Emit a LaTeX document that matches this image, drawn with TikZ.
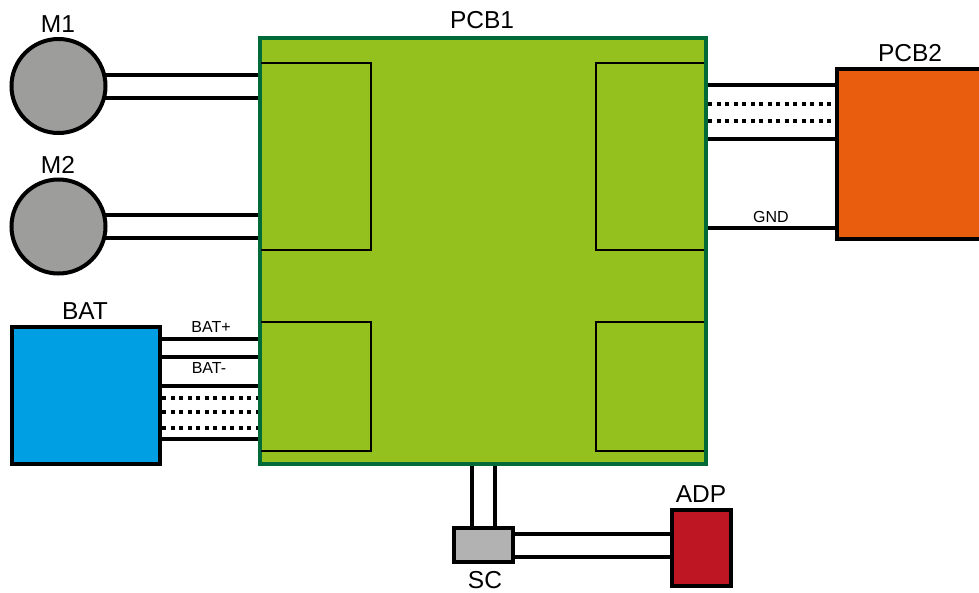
\documentclass[tikz,border=0pt]{standalone}
\usepackage{xcolor}
\usepackage{fontspec}
\setmainfont{Liberation Sans}
\usetikzlibrary{backgrounds}
\definecolor{pcbgreen}{HTML}{95C11F}
\definecolor{pcbedge}{HTML}{006B38}
\definecolor{batblue}{HTML}{009FE3}
\definecolor{pcborange}{HTML}{E95D0F}
\definecolor{motorgray}{HTML}{9D9D9C}
\definecolor{scgray}{HTML}{B2B2B2}
\definecolor{adpred}{HTML}{BE1622}
\begin{document}
\begin{tikzpicture}[x=1pt, y=-1pt, line width=4pt, every node/.style={inner sep=0pt, outer sep=auto}, part/.style={draw=black, line width=4pt}, motor/.style={part, circle, fill=motorgray, minimum size=94pt}, title/.style={font=\fontsize{24.5}{26}\selectfont}, tag/.style={font=\fontsize{16}{18}\selectfont}, wire/.style={draw=black, line width=4pt}, bus/.style={wire, dash pattern=on 4pt off 4.5pt}, zone/.style={draw=black, line width=2pt}]
\useasboundingbox (0,0) rectangle (979,592);
\node[part, draw=pcbedge, fill=pcbgreen, minimum width=446pt, minimum height=426pt] (pcb1) at (483,251) {};
\node[motor] (m1) at (58.5,86) {};
\node[motor] (m2) at (58.5,226.5) {};
\node[part, fill=batblue, minimum width=148pt, minimum height=137pt] (bat) at (86,395.5) {};
\node[part, fill=pcborange, minimum width=148pt, minimum height=170pt] (pcb2) at (911,154) {};
\node[part, fill=scgray, minimum width=59pt, minimum height=34pt] (sc) at (483.5,545) {};
\node[part, fill=adpred, minimum width=59pt, minimum height=76pt] (adp) at (701.5,548) {};
\node[title] (pcb1lab) at (482,20) {PCB1};
\node[title] (pcb2lab) at (910,53) {PCB2};
\node[title] (m1lab) at (58,24) {M1};
\node[title] (m2lab) at (58,165) {M2};
\node[title] (batlab) at (85,311) {BAT};
\node[title] (sclab) at (485,580) {SC};
\node[title] (adplab) at (701,494) {ADP};
\node[tag] (batplus) at (211,327) {BAT+};
\node[tag] (batminus) at (209,368) {BAT-};
\node[tag] (gnd) at (771,217) {GND};
\draw[zone] (261,63) -- (371,63) -- (371,250) -- (261,250);
\draw[zone] (261,322) -- (371,322) -- (371,451) -- (261,451);
\draw[zone] (704,63) -- (596,63) -- (596,250) -- (704,250);
\draw[zone] (704,322) -- (596,322) -- (596,451) -- (704,451);
\begin{scope}[on background layer]
\draw[wire] (m1.center |- 0,75) -- (pcb1.west |- 0,75); \draw[wire] (m1.center |- 0,98) -- (pcb1.west |- 0,98);
\draw[wire] (m2.center |- 0,215) -- (pcb1.west |- 0,215); \draw[wire] (m2.center |- 0,238) -- (pcb1.west |- 0,238);
\end{scope}
\draw[wire] (bat.east |- 0,339) -- (pcb1.west |- 0,339); \draw[wire] (bat.east |- 0,357) -- (pcb1.west |- 0,357); \draw[wire] (bat.east |- 0,386) -- (pcb1.west |- 0,386); \draw[wire] (bat.east |- 0,439) -- (pcb1.west |- 0,439);
\draw[bus] (bat.east |- 0,398) -- (pcb1.west |- 0,398); \draw[bus] (bat.east |- 0,412) -- (pcb1.west |- 0,412); \draw[bus] (bat.east |- 0,427.5) -- (pcb1.west |- 0,427.5);
\draw[wire] (pcb1.east |- 0,85) -- (pcb2.west |- 0,85); \draw[wire] (pcb1.east |- 0,139) -- (pcb2.west |- 0,139); \draw[wire] (pcb1.east |- 0,227.5) -- (pcb2.west |- 0,227.5);
\draw[bus] (pcb1.east |- 0,104) -- (pcb2.west |- 0,104); \draw[bus] (pcb1.east |- 0,120.5) -- (pcb2.west |- 0,120.5);
\draw[wire] (472,0 |- pcb1.south) -- (472,0 |- sc.north); \draw[wire] (495,0 |- pcb1.south) -- (495,0 |- sc.north);
\draw[wire] (sc.east |- 0,534) -- (adp.west |- 0,534); \draw[wire] (sc.east |- 0,557) -- (adp.west |- 0,557);
\end{tikzpicture}
\end{document}
